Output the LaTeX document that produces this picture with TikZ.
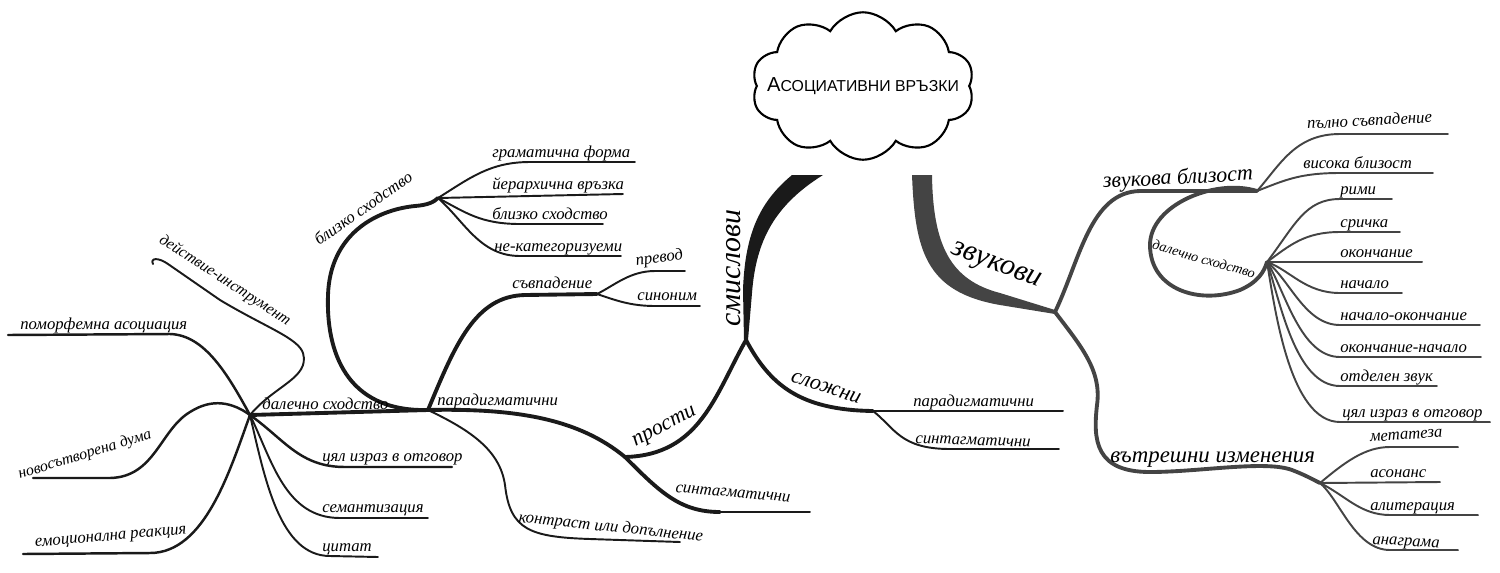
\documentclass[tikz,border=0pt]{standalone}
\usepackage{fontspec}
\setmainfont{Liberation Serif}
\newfontfamily\cloudfont{Liberation Sans}
\usetikzlibrary{shapes.symbols}
\definecolor{ink}{HTML}{1A1A1A}
\definecolor{snd}{HTML}{444444}

\begin{document}
\begin{tikzpicture}[x=0.02cm,y=-0.02cm,
  leaf/.style={ink,line width=1.1pt,line cap=round},
  mid/.style={ink,line width=2.2pt,line cap=round},
  lbl/.style={font=\itshape\fontsize{9.5}{11}\selectfont,inner sep=0pt,anchor=base west},
  mlbl/.style={font=\itshape\fontsize{12.5}{14}\selectfont,inner sep=0pt},
  biglbl/.style={font=\itshape\fontsize{17}{20}\selectfont,inner sep=0pt}]
\useasboundingbox (0,0) rectangle (1500,572);

% cloud
\node[cloud,draw,line width=1.2pt,cloud puffs=10,cloud puff arc=120,cloud ignores aspect,
  minimum width=4.45cm,minimum height=2.95cm,inner sep=0pt] (root) at (863,86)
  {\makebox[0pt]{\cloudfont\fontsize{11.5}{13}\selectfont А\fontsize{9}{11}\selectfont СОЦИАТИВНИ ВРЪЗКИ}};

% stems
\fill[ink] (792,175) .. controls (762,200) and (745,230) .. (743,290) -- (744,340)
  -- (748,340) -- (752,293) .. controls (756,240) and (775,205) .. (823,175) -- cycle;
\fill[snd] (912,175) .. controls (915,250) and (925,292) .. (1000,305) -- (1055,314)
  -- (1055,310) -- (1000,293) .. controls (950,280) and (933,245) .. (932,175) -- cycle;

% junctions
\coordinate (S) at (746,340);
\coordinate (Z) at (1055,312);
\coordinate (P) at (625,457);
\coordinate (Q) at (428,410);
\coordinate (D) at (250,415);
\coordinate (B) at (438,198);
\coordinate (C) at (597,294);
\coordinate (L) at (873,411);
\coordinate (J) at (1257,191);
\coordinate (K) at (1267,262);
\coordinate (V) at (1320,483);

% ends
\coordinate (gf) at (635,162);
\coordinate (yv) at (623,194);
\coordinate (bs) at (603,224);
\coordinate (nk) at (621,256);
\coordinate (pv) at (685,271);
\coordinate (sn) at (700,306);
\coordinate (pd) at (1063,411);
\coordinate (st) at (1059,449);
\coordinate (sg) at (810,512);
\coordinate (kd) at (680,542);
\coordinate (pa) at (8,335);
\coordinate (nd) at (33,478);
\coordinate (er) at (23,554);
\coordinate (ci) at (452,467);
\coordinate (se) at (428,518);
\coordinate (ct) at (378,557);
\coordinate (di) at (153,264);
\coordinate (pc) at (1448,134);
\coordinate (vb) at (1433,173);
\coordinate (ri) at (1392,199);
\coordinate (sr) at (1400,232);
\coordinate (ok) at (1422,262);
\coordinate (na) at (1402,293);
\coordinate (nao) at (1480,325);
\coordinate (ona) at (1481,357);
\coordinate (oz) at (1437,386);
\coordinate (co) at (1490,422);
\coordinate (mt) at (1458,447);
\coordinate (as) at (1440,482);
\coordinate (al) at (1478,515);
\coordinate (an) at (1458,550);

% left side
\draw[mid] (S) .. controls (715,395) and (700,455) .. (P);
\draw[mid] (Q) .. controls (520,408) and (580,420) .. (P);
\draw[mid] (P) .. controls (660,492) and (680,512) .. (720,512);
\draw[leaf] (720,512) -- (sg);
\draw[mid] (S) .. controls (770,385) and (800,410) .. (L);
\draw[leaf] (L) -- (pd);
\draw[leaf] (L) .. controls (895,428) and (900,449) .. (950,449) -- (st);
\draw[mid] (D) -- (Q);
\draw[mid] (Q) .. controls (455,345) and (475,296) .. (525,295) -- (C);
\draw[leaf] (C) .. controls (615,285) and (630,271) .. (655,271) -- (pv);
\draw[leaf] (C) .. controls (615,300) and (630,306) .. (655,306) -- (sn);
\draw[mid] (Q) .. controls (345,412) and (326,350) .. (328,295)
  .. controls (330,235) and (375,210) .. (415,206) .. controls (428,205) and (434,202) .. (B);
\draw[leaf] (B) .. controls (470,178) and (490,162) .. (530,162) -- (gf);
\draw[leaf] (B) -- (yv);
\draw[leaf] (B) .. controls (465,212) and (480,224) .. (520,224) -- (bs);
\draw[leaf] (B) .. controls (465,222) and (480,256) .. (520,256) -- (nk);
\draw[leaf] (Q) .. controls (470,430) and (500,450) .. (505,485)
  .. controls (510,530) and (530,537) .. (590,539) -- (kd);
\draw[leaf,line width=1.4pt] (D) .. controls (228,375) and (205,335) .. (170,334) -- (pa);
\draw[leaf] (D) .. controls (275,385) and (310,378) .. (303,353)
  .. controls (298,338) and (265,327) .. (220,300) -- (168,264) .. controls (158,257) and (150,258) .. (di);
\draw[leaf,line width=1.4pt] (D) .. controls (232,402) and (212,398) .. (190,412)
  .. controls (160,430) and (155,477) .. (110,478) -- (nd);
\draw[leaf,line width=1.4pt] (D) .. controls (230,470) and (205,553) .. (150,553) -- (er);
\draw[leaf,line width=1.4pt] (D) .. controls (285,440) and (300,467) .. (345,467) -- (ci);
\draw[leaf] (D) .. controls (272,460) and (285,518) .. (340,518) -- (se);
\draw[leaf] (D) .. controls (265,480) and (280,556) .. (330,556) -- (ct);

% right side
\draw[mid,snd] (Z) .. controls (1080,260) and (1090,192) .. (1140,191) -- (J);
\draw[leaf,snd] (J) .. controls (1280,165) and (1295,134) .. (1340,134) -- (pc);
\draw[leaf,snd] (J) .. controls (1285,180) and (1300,173) .. (1340,173) -- (vb);
\draw[mid,snd] (J) .. controls (1215,178) and (1150,205) .. (1150,245)
  .. controls (1150,290) and (1200,305) .. (1240,290) .. controls (1258,282) and (1264,272) .. (K);
\draw[leaf,snd] (K) .. controls (1295,225) and (1305,199) .. (1340,199) -- (ri);
\draw[leaf,snd] (K) .. controls (1290,245) and (1305,232) .. (1340,232) -- (sr);
\draw[leaf,snd] (K) -- (ok);
\draw[leaf,snd] (K) .. controls (1290,270) and (1305,293) .. (1340,293) -- (na);
\draw[leaf,snd] (K) .. controls (1290,280) and (1305,325) .. (1340,325) -- (nao);
\draw[leaf,snd] (K) .. controls (1285,290) and (1300,357) .. (1340,357) -- (ona);
\draw[leaf,snd] (K) .. controls (1280,300) and (1295,386) .. (1340,386) -- (oz);
\draw[leaf,snd] (K) .. controls (1275,310) and (1290,422) .. (1340,422) -- (co);
\draw[mid,snd] (Z) .. controls (1080,345) and (1102,370) .. (1097,405)
  .. controls (1093,440) and (1095,472) .. (1150,472) .. controls (1200,472) and (1265,460) .. (1292,470)
  .. controls (1305,475) and (1312,479) .. (V);
\draw[leaf,snd] (V) .. controls (1345,462) and (1365,447) .. (1390,447) -- (mt);
\draw[leaf,snd] (V) -- (as);
\draw[leaf,snd] (V) .. controls (1345,495) and (1360,515) .. (1390,515) -- (al);
\draw[leaf,snd] (V) .. controls (1340,500) and (1355,550) .. (1390,550) -- (an);

% labels
\node[biglbl,rotate=90] (smL) at (734,268) {смислови};
\node[biglbl,rotate=-21] (zvL) at (996,267) {звукови};
\node[mlbl,rotate=28] (prL) at (665,428) {прости};
\node[mlbl,rotate=-18] (slL) at (826,388) {сложни};
\node[mlbl,anchor=base west,rotate=3] (zbL) at (1103,188) {звукова близост};
\node[mlbl,anchor=base west,font=\itshape\fontsize{13}{15}\selectfont] (viL) at (1110,462) {вътрешни изменения};

\node[lbl] (ddL) at (262,409) {далечно сходство};
\node[lbl,anchor=center,rotate=35] (bsL) at (363,208) {близко сходство};
\node[lbl] (paL) at (437,405) {парадигматични};
\node[lbl] (svL) at (512,288) {съвпадение};
\node[lbl] (gfL) at (492,157) {граматична форма};
\node[lbl] (yvL) at (492,189) {йерархична връзка};
\node[lbl] (bsL2) at (492,219) {близко сходство};
\node[lbl] (nkL) at (494,251) {не-категоризуеми};
\node[lbl,rotate=8] (pvL) at (636,266) {превод};
\node[lbl] (snL) at (637,300) {синоним};
\node[lbl,rotate=-5] (sgL) at (675,492) {синтагматични};
\node[lbl] (pdL) at (913,406) {парадигматични};
\node[lbl,rotate=-2] (stL) at (915,443) {синтагматични};
\node[lbl,rotate=-6] (kdL) at (518,522) {контраст или допълнение};
\node[lbl] (paL2) at (20,329) {поморфемна асоциация};
\node[lbl,anchor=center,rotate=17,font=\itshape\fontsize{9}{11}\selectfont] (ndL) at (85,455) {новосътворена дума};
\node[lbl,rotate=5] (erL) at (35,547) {емоционална реакция};
\node[lbl] (ciL) at (322,461) {цял израз в отговор};
\node[lbl] (seL) at (322,512) {семантизация};
\node[lbl] (ctL) at (322,551) {цитат};
\node[lbl,rotate=-33,font=\itshape\fontsize{9}{11}\selectfont] (diL) at (158,242) {действие-инструмент};

\node[lbl,rotate=3] (pcL) at (1307,129) {пълно съвпадение};
\node[lbl] (vbL) at (1303,168) {висока близост};
\node[lbl,anchor=center,rotate=-16,font=\itshape\fontsize{8}{10}\selectfont] (dsL) at (1204,259) {далечно сходство};
\node[lbl] (riL) at (1340,194) {рими};
\node[lbl] (srL) at (1340,227) {сричка};
\node[lbl] (okL) at (1340,257) {окончание};
\node[lbl] (naL) at (1340,288) {начало};
\node[lbl] (naoL) at (1340,320) {начало-окончание};
\node[lbl] (onaL) at (1340,352) {окончание-начало};
\node[lbl] (ozL) at (1340,381) {отделен звук};
\node[lbl] (coL) at (1342,417) {цял израз в отговор};
\node[lbl,rotate=4] (mtL) at (1370,442) {метатеза};
\node[lbl] (asL) at (1370,477) {асонанс};
\node[lbl] (alL) at (1370,510) {алитерация};
\node[lbl,rotate=-3] (anL) at (1372,544) {анаграма};
\end{tikzpicture}
\end{document}
